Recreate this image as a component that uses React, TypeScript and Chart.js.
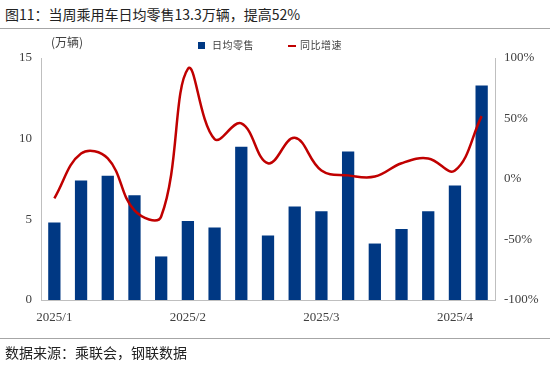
import React, { useEffect, useRef } from "react";
import { Chart, registerables } from "chart.js";

Chart.register(...registerables);

const categories = ["2025/1", "", "", "", "", "2025/2", "", "", "", "", "2025/3", "", "", "", "", "2025/4", ""];
const dailySales = [4.8, 7.4, 7.7, 6.5, 2.7, 4.9, 4.5, 9.5, 4.0, 5.8, 5.5, 9.2, 3.5, 4.4, 5.5, 7.1, 13.3];
const yoyGrowth = [-16, 21, 17, -26, -31, 91, 33, 46, 13, 34, 7, 3, 2, 13, 17, 7, 52];
const leftTicks = [0, 5, 10, 15];
const rightTicks = [-100, -50, 0, 50, 100];

const BAR = "#003883";
const RED = "#C00000";
const SERIF = "'Liberation Serif', 'DejaVu Serif', serif";
const CJK = "'Noto Sans CJK SC', sans-serif";

export default function App() {
  const ref = useRef<HTMLCanvasElement | null>(null);

  useEffect(() => {
    if (!ref.current) return;
    const chart = new Chart(ref.current, {
      type: "bar",
      data: {
        labels: categories,
        datasets: [
          {
            type: "line",
            label: "同比增速",
            data: yoyGrowth,
            yAxisID: "y1",
            borderColor: RED,
            borderWidth: 2.5,
            pointRadius: 0,
            tension: 0.4,
            fill: false,
            order: 0,
          },
          {
            type: "bar",
            label: "日均零售",
            data: dailySales,
            yAxisID: "y",
            backgroundColor: BAR,
            categoryPercentage: 1,
            barPercentage: 0.46,
            order: 1,
          },
        ],
      },
      options: {
        animation: false,
        responsive: false,
        maintainAspectRatio: false,
        layout: { padding: { top: 58, left: 0, right: 0, bottom: 0 } },
        plugins: { legend: { display: false }, title: { display: false }, tooltip: { enabled: false } },
        scales: {
          x: {
            type: "category",
            offset: true,
            grid: { display: false, drawTicks: false },
            border: { display: true, color: "#BFBFBF", width: 1 },
            ticks: {
              autoSkip: false,
              maxRotation: 0,
              padding: 10,
              color: "#404040",
              font: { family: SERIF, size: 13 },
            },
            afterFit: (s: any) => {
              s.height = 67;
            },
          },
          y: {
            position: "left",
            min: 0,
            max: 15,
            afterBuildTicks: (s: any) => {
              s.ticks = leftTicks.map((v) => ({ value: v }));
            },
            grid: { display: false, drawTicks: false },
            border: { display: true, color: "#BFBFBF", width: 1 },
            ticks: {
              padding: 9,
              color: "#404040",
              font: { family: SERIF, size: 13 },
            },
            afterFit: (s: any) => {
              s.width = 41;
            },
          },
          y1: {
            position: "right",
            min: -100,
            max: 100,
            afterBuildTicks: (s: any) => {
              s.ticks = rightTicks.map((v) => ({ value: v }));
            },
            grid: { display: false, drawTicks: false },
            border: { display: true, color: "#BFBFBF", width: 1 },
            ticks: {
              padding: 9,
              color: "#404040",
              font: { family: SERIF, size: 13 },
              callback: (v: any) => `${v}%`,
            },
            afterFit: (s: any) => {
              s.width = 55;
            },
          },
        },
      },
    });
    return () => chart.destroy();
  }, []);

  const textBase: React.CSSProperties = { position: "absolute", whiteSpace: "nowrap", fontFamily: CJK, color: "#222" };

  return (
    <div style={{ position: "absolute", left: 0, top: 0, width: 550, height: 367, background: "#fff", overflow: "hidden" }}>
      <div style={{ ...textBase, left: 5, top: 4, fontSize: 14, lineHeight: "20px" }}>
        图11：当周乘用车日均零售13.3万辆，提高52%
      </div>
      <div style={{ position: "absolute", left: 0, top: 28, width: 550, height: 0, borderTop: "1px solid #A6A6A6" }} />
      <canvas ref={ref} width={550} height={367} style={{ position: "absolute", left: 0, top: 0, width: 550, height: 367 }} />
      <div style={{ ...textBase, left: 51, top: 34, fontSize: 12, lineHeight: "16px", color: "#404040" }}>(万辆)</div>
      <div style={{ position: "absolute", left: 198, top: 42, width: 7, height: 7, background: BAR }} />
      <div style={{ ...textBase, left: 212, top: 38, fontSize: 10, lineHeight: "14px", letterSpacing: 0.5, color: "#404040" }}>日均零售</div>
      <div style={{ position: "absolute", left: 288, top: 45, width: 8, height: 2, background: RED }} />
      <div style={{ ...textBase, left: 300, top: 38, fontSize: 10, lineHeight: "14px", letterSpacing: 0.5, color: "#404040" }}>同比增速</div>
      <div style={{ position: "absolute", left: 0, top: 338, width: 550, height: 0, borderTop: "1px solid #A6A6A6" }} />
      <div style={{ ...textBase, left: 5, top: 342, fontSize: 14, lineHeight: "20px" }}>数据来源：乘联会，钢联数据</div>
    </div>
  );
}
